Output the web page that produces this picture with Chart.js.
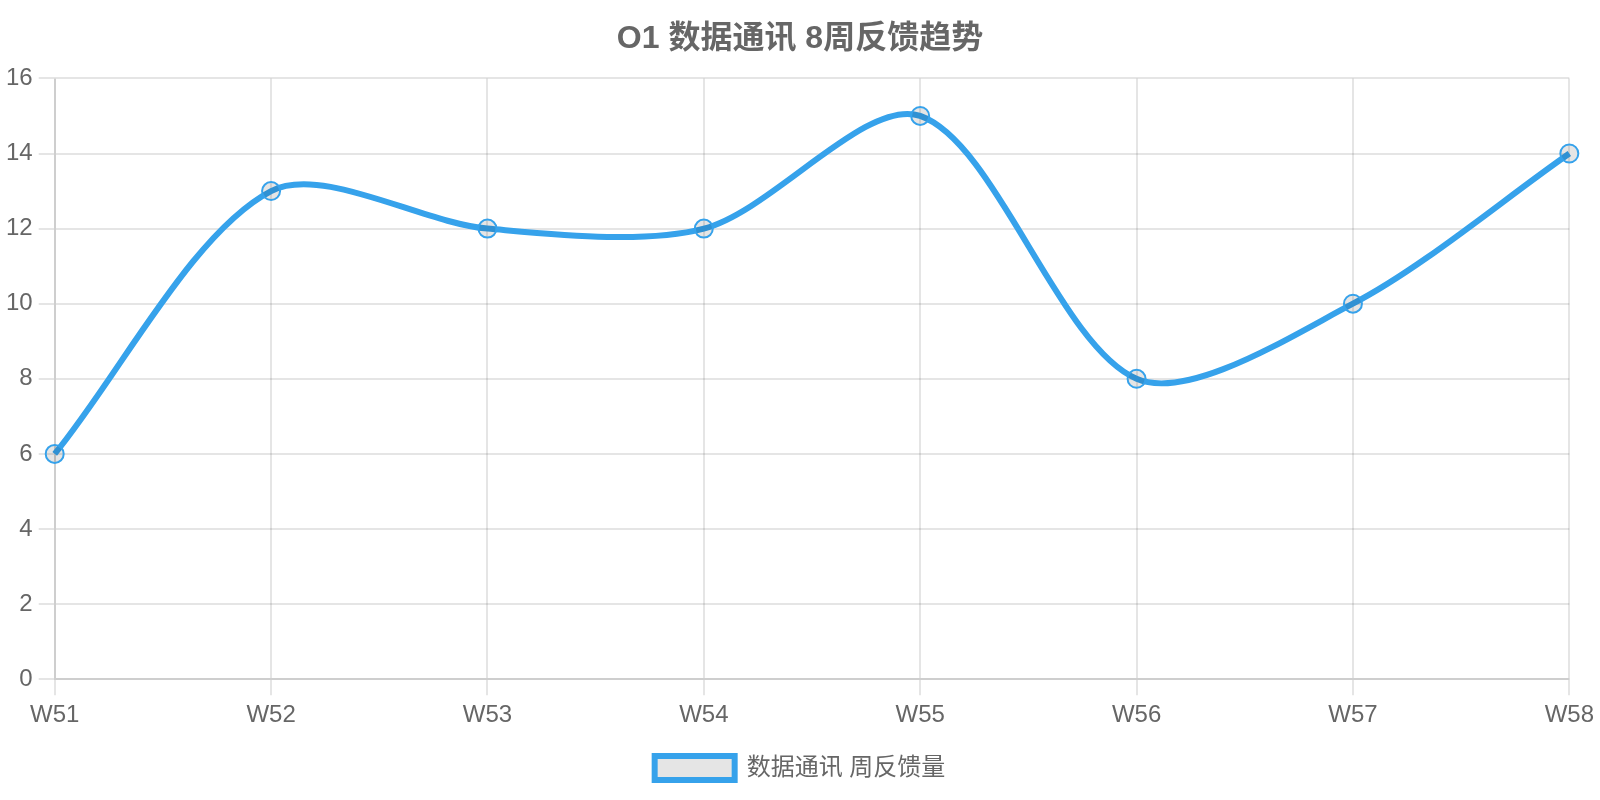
<!DOCTYPE html>
<html><head><meta charset="utf-8">
<script src="https://cdn.jsdelivr.net/npm/chart.js@4"></script>
<style>
html,body{margin:0;padding:0;background:#fff;overflow:hidden}
#wrap{width:1600px;height:800px}
</style>
</head><body><div id="wrap"><canvas id="c"></canvas></div>
<script>
const categories = ["W51","W52","W53","W54","W55","W56","W57","W58"];
const values = [6,13,12,12,15,8,10,14];
const seriesLabel = "数据通讯 周反馈量";
const titleText = "O1 数据通讯 8周反馈趋势";
const yTickStep = 2;
const yMin = 0, yMax = 16;
Chart.defaults.font.family = "'Helvetica Neue', Helvetica, Arial, 'Liberation Sans', 'Noto Sans CJK SC', sans-serif";
Chart.defaults.font.size = 24;
Chart.defaults.color = "#666";
const axisStyle = {
  grid: { lineWidth: 2, tickLength: 16 },
  border: { width: 2 },
  ticks: { padding: 6 }
};
new Chart(document.getElementById('c'), {
  type: 'line',
  data: { labels: categories, datasets: [{
    label: seriesLabel, data: values,
    borderColor: '#36A2EB', backgroundColor: 'rgba(0,0,0,0.1)',
    borderWidth: 6, tension: 0.3, pointRadius: 9, pointBorderWidth: 2, fill: false
  }]},
  options: {
    responsive: true, maintainAspectRatio: false, animation: false,
    layout: { padding: { bottom: 10 } },
    plugins: {
      title: { display: true, text: titleText, font: { size: 32, weight: 'bold' }, color: '#666', padding: 20 },
      legend: { position: 'bottom', labels: { boxWidth: 80, padding: 20, font: { size: 24 } } }
    },
    scales: {
      x: { ...axisStyle },
      y: { ...axisStyle, min: yMin, max: yMax, ticks: { padding: 6, stepSize: yTickStep } }
    }
  }
});
</script></body></html>
